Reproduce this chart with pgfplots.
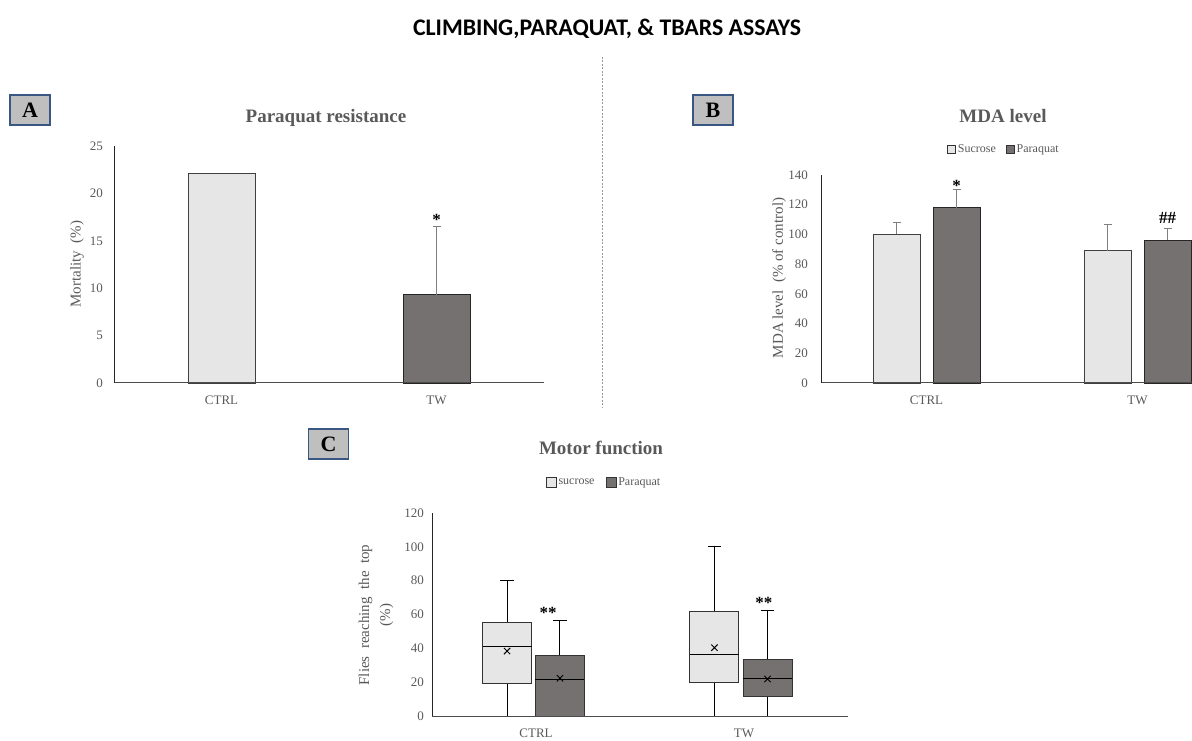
\documentclass[border=0pt]{standalone}
\usepackage{pgfplots}
\pgfplotsset{compat=1.18}
\usepackage{fontspec}
\setmainfont{Liberation Serif}
\newfontfamily\headfont{Carlito}

\definecolor{lightbar}{HTML}{E7E6E6}
\definecolor{darkbar}{HTML}{767171}
\definecolor{txtgray}{HTML}{595959}
\definecolor{errgray}{HTML}{7F7F7F}
\definecolor{tagfill}{HTML}{BFBFBF}
\definecolor{tagline}{HTML}{3A5683}

\pgfplotsset{
  panel/.style={
    scale only axis, clip=false, axis on top,
    axis x line=bottom, axis y line=left,
    axis line style={black!85, line width=1pt, -},
    x axis line style={black!70},
    ymin=0, xmin=-0.5,
    major tick length=0pt,
    xtick={0,1}, xticklabels={CTRL,TW},
    tick label style={font=\fontsize{13}{15}\selectfont, text=txtgray},
    xticklabel style={anchor=center, yshift=-17pt},
    yticklabel style={anchor=east, inner sep=0pt},
    /pgf/number format/assume math mode=true,
    every axis y label/.style={rotate=90, anchor=center,
      font=\fontsize{15}{21}\selectfont, text=txtgray},
  },
  errs/.style={
    error bars/.cd, y dir=plus, y explicit,
    error bar style={errgray, line width=0.9pt, solid},
    error mark options={errgray, line width=0.9pt, mark size=4pt, rotate=90},
  },
  whisk/.style={black, line width=1pt},
  boxl/.style={fill=lightbar, draw=black!80, line width=1pt},
  boxd/.style={fill=darkbar, draw=black!80, line width=1pt},
}

\newcommand{\paneltag}[3]{%
  \node[draw=tagline, fill=tagfill, line width=1.2pt, minimum width=40pt,
        minimum height=30pt, inner sep=0pt,
        font=\bfseries\fontsize{22}{22}\selectfont] at (#1pt,#2pt) {#3};}

\begin{document}
\begin{tikzpicture}
\useasboundingbox (0pt,0pt) rectangle (1192pt,740pt);

% heading and divider
\node[anchor=base, font=\headfont\bfseries\fontsize{23.8}{26}\selectfont]
  at (607pt,704.5pt) {CLIMBING,PARAQUAT, \& TBARS ASSAYS};
\draw[black!40, line width=0.8pt, dash pattern=on 2pt off 1.5pt] (602pt,683pt) -- (602pt,332pt);

% ---------- A: paraquat resistance ----------
\paneltag{30}{630}{A}
\node[anchor=base, text=txtgray, font=\bfseries\fontsize{19}{22}\selectfont]
  at (326pt,617pt) {Paraquat resistance};
\begin{axis}[panel, at={(114pt,357pt)}, anchor=south west,
  width=430pt, height=237pt, xmax=1.5, ymax=25, ytick={0,5,...,25},
  yticklabel style={xshift=-11pt},
  ylabel={Mortality~~(\%)},
  ylabel style={at={(axis description cs:-0.086,0.502)}}]
  \addplot[ybar, bar width=67pt, bar shift=0pt, fill=lightbar,
    draw=black!75, line width=0.9pt] coordinates {(0,22.1)};
  \addplot[ybar, bar width=67pt, bar shift=0pt, fill=darkbar,
    draw=black!85, line width=0.9pt, errs] coordinates {(1,9.3) +- (0,7.2)};
  \node[anchor=base, font=\bfseries\fontsize{17}{17}\selectfont]
    at (axis cs:1,16.5) [yshift=1pt] {*};
\end{axis}

% ---------- B: MDA level ----------
% bars sit 30pt either side of each group centre (0.1422 axis units)
\paneltag{713}{630}{B}
\node[anchor=base, text=txtgray, font=\bfseries\fontsize{19}{22}\selectfont]
  at (1003pt,617pt) {MDA level};
\begin{axis}[panel, at={(821pt,357pt)}, anchor=south west,
  width=371pt, height=208pt, xmax=1.2583, ymax=140, ytick={0,20,...,140},
  yticklabel style={xshift=-13pt},
  ylabel={MDA level~~(\% of control)},
  ylabel style={at={(axis description cs:-0.113,0.505)}},
  legend style={at={(axis description cs:0.493,1.125)}, anchor=center,
    draw=none, fill=none, inner sep=0pt, legend columns=2,
    font=\fontsize{12}{14}\selectfont, text=txtgray,
    /tikz/every even column/.append style={column sep=8pt}},
  legend cell align=left]
  \addlegendimage{legend image code/.code={
    \draw[fill=lightbar, draw=black!80, line width=0.8pt] (0pt,-4pt) rectangle (8pt,4pt);}}
  \addlegendentry{Sucrose}
  \addlegendimage{legend image code/.code={
    \draw[fill=darkbar, draw=black!80, line width=0.8pt] (0pt,-4pt) rectangle (8pt,4pt);}}
  \addlegendentry{Paraquat}
  \addplot[ybar, bar width=47pt, bar shift=0pt, fill=lightbar,
    draw=black!75, line width=0.9pt, errs]
    coordinates {(-0.1422,100) +- (0,7.8) (0.8578,89) +- (0,17.4)};
  \addplot[ybar, bar width=47pt, bar shift=0pt, fill=darkbar,
    draw=black!85, line width=0.9pt, errs]
    coordinates {(0.1422,118) +- (0,12) (1.1422,96) +- (0,8.2)};
  \node[anchor=base, font=\bfseries\fontsize{17}{17}\selectfont]
    at (axis cs:0.1422,130) [yshift=-2pt] {*};
  \node[anchor=base, font=\bfseries\fontsize{17}{17}\selectfont]
    at (axis cs:1.1422,104.2) [yshift=5pt] {\#\#};
\end{axis}

% ---------- C: motor function ----------
\paneltag{328.5}{296}{C}
\node[anchor=base, text=txtgray, font=\bfseries\fontsize{19}{22}\selectfont]
  at (601pt,285pt) {Motor function};
\begin{axis}[panel, at={(432pt,24pt)}, anchor=south west,
  width=416pt, height=203pt, xmax=1.5, ymax=120, ytick={0,20,...,120},
  yticklabel style={xshift=-8pt},
  ylabel={Flies~~reaching~~the~~top\\(\%)},
  ylabel style={align=center, at={(axis description cs:-0.1346,0.4975)}},
  legend style={at={(axis description cs:0.4135,1.1527)}, anchor=center,
    draw=none, fill=none, inner sep=0pt, legend columns=2,
    font=\fontsize{12}{14}\selectfont, text=txtgray,
    /tikz/every even column/.append style={column sep=9pt}},
  legend cell align=left]
  \addlegendimage{legend image code/.code={
    \draw[fill=lightbar, draw=black!80, line width=0.8pt] (0pt,-5pt) rectangle (10pt,5pt);}}
  \addlegendentry{sucrose}
  \addlegendimage{legend image code/.code={
    \draw[fill=darkbar, draw=black!80, line width=0.8pt] (0pt,-5pt) rectangle (10pt,5pt);}}
  \addlegendentry{Paraquat}
  % CTRL sucrose: whiskers 0-80, quartiles 19-55, median 41
  \addplot[whisk] coordinates {(-0.139,0) (-0.139,80)};
  \addplot[whisk] coordinates {(-0.1725,80) (-0.1055,80)};
  \addplot[boxl] coordinates {(-0.2568,19) (-0.0212,19) (-0.0212,55) (-0.2568,55)} -- cycle;
  \addplot[whisk] coordinates {(-0.2568,41) (-0.0212,41)};
  % CTRL paraquat: whiskers 0-56.3, quartiles 0-35.6, median 21.7
  \addplot[whisk] coordinates {(0.115,0) (0.115,56.3)};
  \addplot[whisk] coordinates {(0.0815,56.3) (0.1485,56.3)};
  \addplot[boxd] coordinates {(-0.0028,0) (0.2328,0) (0.2328,35.6) (-0.0028,35.6)} -- cycle;
  \addplot[whisk] coordinates {(-0.0028,21.7) (0.2328,21.7)};
  % TW sucrose: whiskers 0-100, quartiles 19.7-62, median 36.4
  \addplot[whisk] coordinates {(0.858,0) (0.858,100)};
  \addplot[whisk] coordinates {(0.8245,100) (0.8915,100)};
  \addplot[boxl] coordinates {(0.7402,19.7) (0.9758,19.7) (0.9758,62) (0.7402,62)} -- cycle;
  \addplot[whisk] coordinates {(0.7402,36.4) (0.9758,36.4)};
  % TW paraquat: whiskers 0-62.6, quartiles 11.8-33.5, median 22.3
  \addplot[whisk] coordinates {(1.113,0) (1.113,62.6)};
  \addplot[whisk] coordinates {(1.0795,62.6) (1.1465,62.6)};
  \addplot[boxd] coordinates {(0.9952,11.8) (1.2308,11.8) (1.2308,33.5) (0.9952,33.5)} -- cycle;
  \addplot[whisk] coordinates {(0.9952,22.3) (1.2308,22.3)};
  % means
  \addplot[only marks, mark=x, mark size=4.5pt, black, line width=0.9pt]
    coordinates {(-0.139,38.4) (0.115,22.3) (0.858,40.4) (1.113,21.9)};
  \node[anchor=base, font=\bfseries\fontsize{17}{17}\selectfont]
    at (axis cs:0.058,56.3) [yshift=2.5pt] {**};
  \node[anchor=base, font=\bfseries\fontsize{17}{17}\selectfont]
    at (axis cs:1.096,62.6) [yshift=2pt] {**};
\end{axis}
\end{tikzpicture}
\end{document}
